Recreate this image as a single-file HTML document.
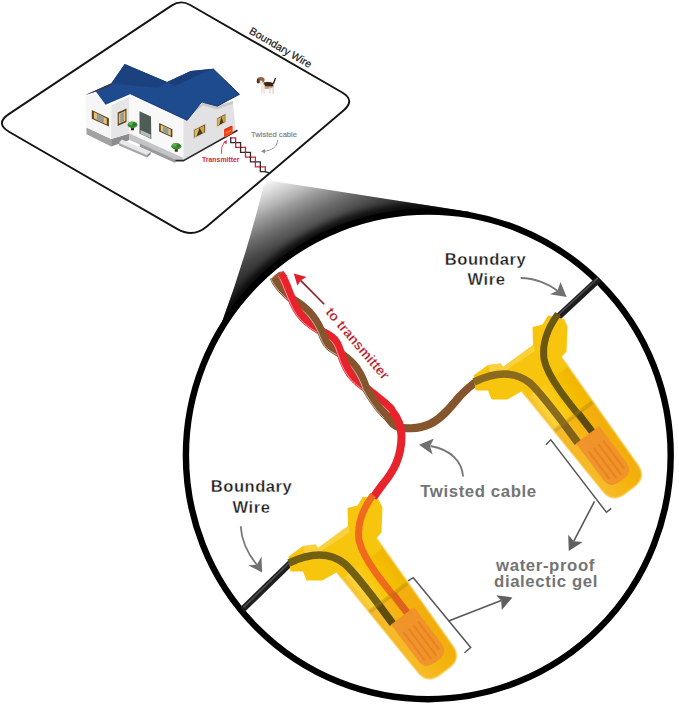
<!DOCTYPE html>
<html><head><meta charset="utf-8"><style>
html,body{margin:0;padding:0;background:#fff;}
svg{display:block;}
text{font-family:"Liberation Sans",sans-serif;}
</style></head><body>
<svg width="679" height="705" viewBox="0 0 679 705">
<defs>
<linearGradient id="cone" gradientUnits="userSpaceOnUse" x1="265" y1="182" x2="328.75" y2="317.75">
<stop offset="0.000" stop-color="#f8f8f8"/>
<stop offset="0.107" stop-color="#cccccc"/>
<stop offset="0.160" stop-color="#b5b5b5"/>
<stop offset="0.213" stop-color="#9a9a9a"/>
<stop offset="0.320" stop-color="#6c6c6c"/>
<stop offset="0.433" stop-color="#444444"/>
<stop offset="0.533" stop-color="#303030"/>
<stop offset="0.733" stop-color="#1c1c1c"/>
<stop offset="1.000" stop-color="#0e0e0e"/>
</linearGradient>
<linearGradient id="tubeg" x1="0" y1="-26" x2="0" y2="26" gradientUnits="userSpaceOnUse">
<stop offset="0" stop-color="#f0b400"/>
<stop offset="0.45" stop-color="#f8c400"/>
<stop offset="0.85" stop-color="#fbd23c"/>
<stop offset="1" stop-color="#f4bd22"/>
</linearGradient>
</defs>
<rect width="679" height="705" fill="#fff"/>
<path d="M171.5,5.6 Q180.7,-0.5 190.2,5.0 L341.8,92.2 Q355.7,100.2 343.5,110.5 L206.8,226.5 Q193.1,238.1 177.5,229.1 L9.4,132.0 Q-5.3,123.5 8.8,114.1 Z" fill="none" stroke="#141414" stroke-width="1.9"/>
<polygon points="86.5,127.5 111.2,138.9 111.2,146.5 86.5,134.2" fill="#a2a2a4"/>
<polygon points="111.2,138.9 129.5,133.5 129.5,140.0 111.2,146.5" fill="#8c8c8e"/>
<polygon points="85.5,96.5 95.9,91.8 105.6,104.8 111.2,105.6 111.2,138.9 86.5,127.5" fill="#f6f6f6"/>
<polygon points="111.2,105.6 129.5,96.5 129.5,133.5 111.2,138.9" fill="#e6e6e8"/>
<polygon points="129.5,94.5 187.1,120.8 183.4,121.0 183.4,158.0 129.5,133.5" fill="#f8f8f8"/>
<polygon points="129.5,133.5 183.4,158.0 183.4,161.0 175.3,160.5 129.5,140.0" fill="#c4c4c6"/>
<polygon points="140.0,143.6 175.3,159.8 175.3,163.0 140.0,147.0" fill="#9a9a9c"/>
<polygon points="121.8,139.5 150.7,151.8 147.0,155.0 118.9,143.0" fill="#e8e8ea"/>
<polygon points="118.9,143.0 147.0,155.0 147.0,157.5 118.9,145.5" fill="#a8a8aa"/>
<polygon points="147.0,155.0 150.7,151.8 150.7,154.3 147.0,157.5" fill="#8e8e90"/>
<polygon points="183.4,120.8 203.3,102.4 216.6,106.0 232.8,100.9 235.7,130.3 183.4,159.8" fill="#e2e2e4"/>
<polygon points="203.3,102.4 216.6,106.0 232.8,100.9 232.8,104.0 216.6,109.5 203.3,105.5 190.0,115.0" fill="#c9c9cc"/>
<polyline points="175.3,160.6 183.4,160.6 237.5,130.2" fill="none" stroke="#2a2a2a" stroke-width="1.6"/>
<polygon points="91.8,110.0 108.9,118.3 108.9,126.5 91.8,118.8" fill="#5e4418"/><polygon points="93.9,112.1 106.8,118.4 106.8,124.5 93.9,118.6" fill="#e3c27e"/><polygon points="96.9,114.0 103.8,117.3 103.8,122.7 96.9,119.6" fill="#8d9b9c"/>
<polygon points="117.7,112.5 126.5,108.5 126.5,122.0 117.7,126.0" fill="#5e4418"/><polygon points="118.8,113.8 125.4,110.7 125.4,120.7 118.8,123.8" fill="#e3c27e"/><polygon points="120.3,113.7 123.9,112.1 123.9,120.8 120.3,122.4" fill="#8d9b9c"/>
<polygon points="159.1,123.0 172.4,129.2 172.4,137.5 159.1,131.5" fill="#5e4418"/><polygon points="160.7,124.8 170.8,129.5 170.8,135.7 160.7,131.1" fill="#e3c27e"/><polygon points="163.1,126.4 168.4,128.8 168.4,134.2 163.1,131.8" fill="#8d9b9c"/>
<polygon points="193.0,129.6 206.3,123.0 206.3,132.6 193.0,139.2" fill="#d6c9ad"/><polygon points="194.3,129.9 205.0,124.6 205.0,132.3 194.3,137.6" fill="#4a3a1a"/><polygon points="194.6,130.2 199.6,127.7 196.5,136.3 194.6,137.3" fill="#dcb866"/><polygon points="199.6,127.7 204.4,125.4 204.4,132.4 202.6,133.3" fill="#c9a451"/>
<polygon points="216.6,117.9 226.2,112.9 226.2,122.2 216.6,127.4" fill="#d6c9ad"/><polygon points="217.6,118.3 225.2,114.3 225.2,121.8 217.6,125.9" fill="#4a3a1a"/><polygon points="217.8,118.7 221.4,116.8 219.1,124.9 217.8,125.6" fill="#dcb866"/><polygon points="221.4,116.8 224.9,115.0 224.9,121.8 223.5,122.5" fill="#c9a451"/>
<polygon points="139.5,111.2 151.0,116.5 151.3,138.9 139.5,133.6" fill="#4f5c55"/>
<polygon points="140.5,130.0 150.5,134.5 150.5,138.3 140.5,133.8" fill="#b8bcbc"/>
<rect x="131.0" y="126.3" width="3" height="4" fill="#3b2a14"/><ellipse cx="132.5" cy="124.8" rx="5" ry="3.2" fill="#3d8a36"/><ellipse cx="131.0" cy="123.5" rx="2.6" ry="1.8" fill="#5fae4f"/><ellipse cx="134.5" cy="124.3" rx="2" ry="1.5" fill="#2f7a2c"/>
<rect x="174.8" y="147.7" width="3" height="4" fill="#3b2a14"/><ellipse cx="176.3" cy="146.2" rx="5" ry="3.2" fill="#3d8a36"/><ellipse cx="174.8" cy="144.9" rx="2.6" ry="1.8" fill="#5fae4f"/><ellipse cx="178.3" cy="145.7" rx="2" ry="1.5" fill="#2f7a2c"/>
<polygon points="85.3,95.1 111.4,83.2 124.7,63.9 167.1,82.1 190.7,71.0 213.0,68.7 239.5,94.3 217.2,106.2 201.8,102.0 187.1,120.4 130.6,93.9 105.6,104.8 95.9,91.6" fill="#1e4a8e"/>
<polygon points="124.7,63.9 167.1,82.1 158.0,88.0 111.4,83.2" fill="#1b427f"/>
<polygon points="167.1,82.1 190.7,71.0 213.0,68.7 196.0,76.0 175.0,86.0" fill="#193e7a"/>
<polyline points="213.0,68.7 239.5,94.3 217.2,106.2" fill="none" stroke="#10285a" stroke-width="0.9"/>
<polygon points="85.3,95.1 111.4,83.2 112.0,85.0 95.9,91.6" fill="#3a3a40"/>
<polyline points="130.6,93.9 187.1,120.4 201.8,102.0 217.2,106.2" fill="none" stroke="#14306a" stroke-width="0.8"/>

<g>
<path d="M263,82.5 Q268,81 273,83 L274,87.5 Q270,89.5 264,88.8 Z" fill="#c89a78"/>
<path d="M264,82.5 Q268,81.2 272.8,83 L273.3,86 Q268,86.8 264.5,85.8 Z" fill="#3a2418"/>
<path d="M269,87.5 L270.6,87.5 L270.6,93.6 L269.3,93.6 Z M272.2,86.8 L273.9,86.8 L273.9,93.9 L272.7,93.9 Z" fill="#e4d2c4"/>
<path d="M261,84.5 L264.6,84.8 L265,94.6 L263.6,94.6 L263,89.5 L262.3,94.2 L261,94.2 Z" fill="#f2e6dd"/>
<path d="M272.5,83.6 L275,77.8 L276.1,78.3 L274,84.2 Z" fill="#3a2418"/>
<ellipse cx="260.8" cy="79.9" rx="3.8" ry="2.9" fill="#94643e"/>
<ellipse cx="258.2" cy="81.2" rx="1.5" ry="2.4" fill="#5a3420"/>
<path d="M259.8,80.6 Q261.6,80 262.6,81.6 L262.6,85.2 L260.2,85.2 Z" fill="#f3e7de"/>
</g>
<text x="0" y="0" font-size="10.6" fill="#1a1a1a" stroke="#1a1a1a" stroke-width="0.2" transform="translate(248.6,33.0) rotate(30.2)">Boundary Wire</text>
<text x="251" y="136.6" font-size="7.6" fill="#7c7c7c" stroke="#7c7c7c" stroke-width="0.15">Twisted cable</text>
<text x="202" y="161.8" font-size="6.9" font-weight="bold" fill="#d0283a">Transmitter</text>
<path d="M277.5,140 C278,146 272,151 263,151.3" fill="none" stroke="#8a8a8a" stroke-width="0.9"/>
<polygon points="261,151.3 265,149 265,153.6" fill="#8a8a8a"/>
<path d="M221.6,153.7 C221,148 222.5,144 225.5,141.5" fill="none" stroke="#d33040" stroke-width="0.9"/>
<polygon points="226.8,140 223.2,142.2 226.6,144.2" fill="#d33040"/>
<polygon points="224.0,129.5 231.5,125.8 232.6,126.8 232.6,133.5 225.2,137.2 224.0,136.2" fill="#f0461e"/>
<polygon points="224.0,129.5 231.5,125.8 232.6,126.8 225.2,130.6" fill="#d8321a"/>
<polygon points="225.5,132.5 231.0,129.8 231.0,131.0 225.5,133.7" fill="#f8803a"/>
<polyline points="230.70,137.80 235.64,137.80 235.64,142.63" fill="none" stroke="#d22430" stroke-width="1.3" stroke-linecap="square"/><polyline points="230.70,137.80 230.70,142.63 235.64,142.63" fill="none" stroke="#2e2a2a" stroke-width="1.3" stroke-linecap="square"/><polyline points="235.64,142.63 240.58,142.63 240.58,147.46" fill="none" stroke="#2e2a2a" stroke-width="1.3" stroke-linecap="square"/><polyline points="235.64,142.63 235.64,147.46 240.58,147.46" fill="none" stroke="#d22430" stroke-width="1.3" stroke-linecap="square"/><polyline points="240.58,147.46 245.52,147.46 245.52,152.29" fill="none" stroke="#d22430" stroke-width="1.3" stroke-linecap="square"/><polyline points="240.58,147.46 240.58,152.29 245.52,152.29" fill="none" stroke="#2e2a2a" stroke-width="1.3" stroke-linecap="square"/><polyline points="245.52,152.29 250.46,152.29 250.46,157.12" fill="none" stroke="#2e2a2a" stroke-width="1.3" stroke-linecap="square"/><polyline points="245.52,152.29 245.52,157.12 250.46,157.12" fill="none" stroke="#d22430" stroke-width="1.3" stroke-linecap="square"/><polyline points="250.46,157.12 255.40,157.12 255.40,161.95" fill="none" stroke="#d22430" stroke-width="1.3" stroke-linecap="square"/><polyline points="250.46,157.12 250.46,161.95 255.40,161.95" fill="none" stroke="#2e2a2a" stroke-width="1.3" stroke-linecap="square"/><polyline points="255.40,161.95 260.34,161.95 260.34,166.78" fill="none" stroke="#2e2a2a" stroke-width="1.3" stroke-linecap="square"/><polyline points="255.40,161.95 255.40,166.78 260.34,166.78" fill="none" stroke="#d22430" stroke-width="1.3" stroke-linecap="square"/><polyline points="260.34,166.78 265.28,166.78 265.28,171.61" fill="none" stroke="#d22430" stroke-width="1.3" stroke-linecap="square"/><polyline points="260.34,166.78 260.34,171.61 265.28,171.61" fill="none" stroke="#2e2a2a" stroke-width="1.3" stroke-linecap="square"/>
<line x1="265.3" y1="171.6" x2="270.3" y2="173.4" stroke="#2a2a2a" stroke-width="1.3"/>
<clipPath id="coneclip"><path d="M262.8,189 Q264.5,180.5 272,181 L470,212 L428,455 L222,322 Q246.5,255 262.8,189 Z"/></clipPath><filter id="blur3" x="-10%" y="-10%" width="120%" height="120%"><feGaussianBlur stdDeviation="3"/></filter>
<path d="M262.8,189 Q264.5,180.5 272,181 L470,212 L428,455 L222,322 Q246.5,255 262.8,189 Z" fill="url(#cone)"/>
<g clip-path="url(#coneclip)"><ellipse cx="428.3" cy="455.4" rx="242.4" ry="243.8" fill="none" stroke="#000" stroke-width="18" opacity="0.75" filter="url(#blur3)"/></g>
<ellipse cx="428.3" cy="455.4" rx="242.4" ry="243.8" fill="#fff" stroke="#000" stroke-width="6.4"/>
<line x1="242.5" y1="609.5" x2="292" y2="561.5" stroke="#1e1e1e" stroke-width="6.6"/>
<line x1="243.5" y1="607.5" x2="291" y2="561" stroke="#505050" stroke-width="1.6"/>
<line x1="599" y1="279" x2="557" y2="318" stroke="#1e1e1e" stroke-width="6.6"/>
<line x1="598" y1="278" x2="556" y2="317" stroke="#505050" stroke-width="1.6"/>
<path d="M385.5,414.9 L386.2,415.6 C389.5,418.8 391,424 397,426.5 C403,429 418,429.5 430,424 C443,418 452,405 460,396 C467,389 472,384 477,381.5" fill="none" stroke="#85552e" stroke-width="8"/>
<path d="M391.2,409.6 L391.8,410.4 C396.2,415.9 401.5,424 401.5,436 C401.5,458 393,472 383,484 C377,492 372,499 369,505" fill="none" stroke="#e8232b" stroke-width="8"/>
<polyline points="280.0,273.6 280.3,273.9 280.6,274.2 280.9,274.5 281.2,274.9 281.4,275.3 281.7,275.7 282.0,276.1 282.3,276.6 282.6,277.0 282.8,277.5 283.1,278.1" fill="none" stroke="#e8232b" stroke-width="8.4" stroke-linecap="butt"/>
<polyline points="277.3,275.3 277.6,275.6 277.9,275.8 278.1,276.2 278.4,276.5 278.7,276.9 279.0,277.3 279.2,277.7 279.5,278.2 279.8,278.6 280.1,279.1 280.3,279.6" fill="none" stroke="#fff" stroke-width="0.7" opacity="0.85"/>
<polyline points="274.0,277.4 274.1,277.7 274.2,278.1 274.3,278.4 274.5,278.8 274.7,279.2 274.9,279.7 275.1,280.1 275.4,280.5 275.6,281.0 275.9,281.5 276.2,282.0" fill="none" stroke="#85552e" stroke-width="8.4" stroke-linecap="butt"/>
<polyline points="271.3,279.1 271.4,279.4 271.5,279.7 271.6,280.1 271.7,280.5 271.9,280.8 272.1,281.3 272.3,281.7 272.6,282.1 272.8,282.6 273.1,283.1 273.4,283.6" fill="none" stroke="#fff" stroke-width="0.7" opacity="0.85"/>
<polyline points="275.6,281.0 275.9,281.5 276.2,282.0 276.5,282.5 276.9,283.0 277.2,283.6 277.6,284.1 278.0,284.7 278.4,285.2 278.9,285.8 279.3,286.4 279.8,287.0 280.3,287.6 280.8,288.2 281.3,288.8 281.8,289.4 282.4,290.0 282.9,290.6 283.5,291.2 284.1,291.8 284.7,292.4 285.3,293.1 285.9,293.7 286.6,294.3 287.2,294.9 287.9,295.5 288.5,296.1 289.2,296.7 289.9,297.3 290.6,297.9 291.3,298.4 292.0,299.0 292.8,299.5 293.6,300.0 294.5,300.6 295.3,301.1 296.2,301.7 297.1,302.2 297.9,302.8 298.8,303.4 299.7,304.1 300.6,304.7 301.5,305.4 302.4,306.1 303.2,306.8 304.1,307.5 305.0,308.3 305.8,309.0 306.7,309.8 307.5,310.6 308.3,311.5 309.1,312.3 309.9,313.2" fill="none" stroke="#85552e" stroke-width="8.4" stroke-linecap="butt"/>
<polyline points="272.8,282.6 273.1,283.1 273.4,283.6 273.7,284.1 274.1,284.6 274.5,285.2 274.8,285.7 275.2,286.3 275.7,286.9 276.1,287.4 276.5,288.0 277.0,288.6 277.5,289.2 278.0,289.8 278.5,290.5 279.1,291.1 279.6,291.7 280.2,292.3 280.8,292.9 281.4,293.6 282.0,294.2 282.6,294.8 283.3,295.5 283.9,296.1 284.6,296.7 285.3,297.3 285.9,298.0 286.6,298.6 287.3,299.2 288.0,299.8 288.8,300.4 289.5,301.0 290.3,301.5 291.2,302.1 292.0,302.6 292.9,303.2 293.7,303.7 294.6,304.3 295.5,304.9 296.4,305.6 297.3,306.2 298.2,306.9 299.1,307.5 300.0,308.2 300.9,308.9 301.7,309.7 302.6,310.4 303.5,311.2 304.3,312.0 305.1,312.8 306.0,313.6 306.8,314.5 307.6,315.3" fill="none" stroke="#fff" stroke-width="0.7" opacity="0.85"/>
<polyline points="282.6,277.0 282.8,277.5 283.1,278.1 283.4,278.6 283.7,279.1 283.9,279.7 284.2,280.3 284.5,280.9 284.8,281.5 285.0,282.2 285.3,282.8 285.6,283.5 285.9,284.2 286.2,284.9 286.5,285.6 286.7,286.3 287.0,287.1 287.3,287.8 287.6,288.6 287.9,289.3 288.2,290.1 288.5,290.9 288.8,291.7 289.2,292.5 289.5,293.3 289.8,294.1 290.2,294.9 290.5,295.7 290.9,296.5 291.2,297.4 291.6,298.2 292.0,299.0 292.3,299.9 292.7,300.8 293.0,301.7 293.4,302.7 293.9,303.6 294.3,304.6 294.8,305.6 295.3,306.6 295.8,307.5 296.4,308.5 296.9,309.5 297.6,310.4 298.2,311.4 298.8,312.3 299.5,313.3 300.2,314.2 301.0,315.1 301.7,316.0 302.5,316.9 303.3,317.8 304.1,318.6" fill="none" stroke="#e8232b" stroke-width="8.4" stroke-linecap="butt"/>
<polyline points="279.8,278.6 280.1,279.1 280.3,279.6 280.6,280.2 280.9,280.7 281.2,281.3 281.4,281.9 281.7,282.5 282.0,283.2 282.3,283.8 282.6,284.5 282.9,285.1 283.1,285.8 283.4,286.6 283.7,287.3 284.0,288.0 284.3,288.8 284.6,289.5 284.9,290.3 285.2,291.1 285.5,291.9 285.9,292.7 286.2,293.5 286.5,294.3 286.9,295.1 287.2,295.9 287.6,296.8 287.9,297.6 288.3,298.5 288.7,299.3 289.1,300.1 289.5,301.0 289.8,301.9 290.2,302.8 290.6,303.8 291.0,304.8 291.4,305.7 291.9,306.7 292.4,307.7 292.9,308.7 293.4,309.6 294.0,310.6 294.6,311.6 295.2,312.6 295.8,313.5 296.5,314.5 297.2,315.4 297.9,316.4 298.6,317.3 299.4,318.2 300.1,319.1 300.9,319.9 301.7,320.8" fill="none" stroke="#fff" stroke-width="0.7" opacity="0.85"/>
<polyline points="302.5,316.9 303.3,317.8 304.1,318.6 304.9,319.4 305.7,320.2 306.6,321.0 307.5,321.8 308.4,322.6 309.3,323.3 310.2,324.0 311.1,324.7 312.0,325.4 312.9,326.0 313.8,326.6 314.8,327.2 315.7,327.8 316.6,328.4 317.5,329.0 318.4,329.5 319.3,330.0 320.1,330.5 321.0,331.0 321.8,331.5 322.7,331.9 323.5,332.4 324.3,332.8 325.0,333.2 325.8,333.6 326.5,334.0 327.2,334.4 327.9,334.8 328.6,335.2 329.3,335.6 329.9,336.0 330.5,336.5 331.1,336.9 331.7,337.3 332.2,337.8 332.8,338.2 333.3,338.7 333.8,339.2 334.2,339.7 334.7,340.2" fill="none" stroke="#e8232b" stroke-width="8.4" stroke-linecap="butt"/>
<polyline points="300.1,319.1 300.9,319.9 301.7,320.8 302.6,321.6 303.4,322.4 304.3,323.2 305.1,324.0 306.0,324.8 306.9,325.5 307.8,326.2 308.7,326.9 309.6,327.5 310.6,328.2 311.5,328.8 312.4,329.4 313.3,330.0 314.2,330.6 315.1,331.1 316.0,331.6 316.9,332.2 317.8,332.7 318.6,333.1 319.5,333.6 320.3,334.1 321.1,334.5 321.9,334.9 322.7,335.3 323.4,335.8 324.1,336.2 324.9,336.6 325.6,337.0 326.2,337.4 326.9,337.8 327.5,338.2 328.1,338.6 328.7,339.0 329.3,339.5 329.9,339.9 330.4,340.4 330.9,340.8 331.4,341.3 331.8,341.8 332.3,342.4" fill="none" stroke="#fff" stroke-width="0.7" opacity="0.85"/>
<polyline points="308.3,311.5 309.1,312.3 309.9,313.2 310.7,314.0 311.4,314.9 312.2,315.8 312.9,316.8 313.6,317.7 314.2,318.6 314.9,319.6 315.5,320.5 316.1,321.5 316.7,322.5 317.3,323.4 317.8,324.4 318.3,325.4 318.8,326.3 319.3,327.3 319.8,328.2 320.2,329.2 320.6,330.1 321.0,331.0 321.4,331.9 321.7,332.8 322.1,333.6 322.4,334.4 322.8,335.3 323.1,336.0 323.4,336.8 323.8,337.6 324.1,338.3 324.4,339.0 324.8,339.7 325.1,340.4 325.5,341.0 325.8,341.7 326.2,342.3 326.6,342.9 327.0,343.4 327.4,344.0 327.8,344.5 328.3,345.0 328.7,345.5" fill="none" stroke="#85552e" stroke-width="8.4" stroke-linecap="butt"/>
<polyline points="306.0,313.6 306.8,314.5 307.6,315.3 308.3,316.2 309.1,317.1 309.8,318.0 310.5,318.9 311.2,319.9 311.9,320.8 312.5,321.8 313.2,322.7 313.8,323.7 314.4,324.7 314.9,325.6 315.5,326.6 316.0,327.5 316.5,328.5 317.0,329.5 317.4,330.4 317.8,331.3 318.2,332.2 318.6,333.1 319.0,334.0 319.3,334.9 319.7,335.7 320.0,336.6 320.4,337.4 320.7,338.2 321.0,339.0 321.4,339.7 321.7,340.5 322.0,341.2 322.4,341.9 322.7,342.5 323.1,343.2 323.5,343.8 323.8,344.4 324.2,345.0 324.6,345.6 325.0,346.1 325.4,346.7 325.9,347.2 326.3,347.7" fill="none" stroke="#fff" stroke-width="0.7" opacity="0.85"/>
<polyline points="327.8,344.5 328.3,345.0 328.7,345.5 329.2,346.0 329.7,346.5 330.2,346.9 330.7,347.4 331.3,347.8 331.9,348.3 332.5,348.7 333.1,349.1 333.7,349.5 334.3,349.9 335.0,350.3 335.7,350.8 336.4,351.2 337.1,351.6 337.9,352.1 338.6,352.5 339.4,353.0 340.2,353.5 341.0,354.0 341.8,354.5 342.6,355.1 343.5,355.7 344.3,356.3 345.1,356.9 346.0,357.5 346.8,358.2 347.6,358.9 348.4,359.6 349.2,360.3 350.0,361.0 350.8,361.8 351.6,362.6 352.4,363.4 353.1,364.2 353.8,365.0 354.6,365.9 355.2,366.8 355.9,367.7 356.6,368.6 357.2,369.5" fill="none" stroke="#85552e" stroke-width="8.4" stroke-linecap="butt"/>
<polyline points="325.4,346.7 325.9,347.2 326.3,347.7 326.8,348.1 327.3,348.6 327.8,349.0 328.3,349.5 328.9,349.9 329.4,350.3 330.0,350.8 330.6,351.2 331.2,351.6 331.9,352.0 332.6,352.4 333.2,352.8 333.9,353.2 334.7,353.6 335.4,354.1 336.1,354.5 336.9,355.0 337.7,355.5 338.5,356.0 339.3,356.5 340.1,357.0 340.9,357.6 341.7,358.2 342.6,358.8 343.4,359.4 344.2,360.1 345.0,360.7 345.8,361.4 346.6,362.2 347.4,362.9 348.2,363.7 349.0,364.4 349.8,365.2 350.5,366.1 351.2,366.9 351.9,367.7 352.6,368.6 353.3,369.5 354.0,370.4 354.6,371.3" fill="none" stroke="#fff" stroke-width="0.7" opacity="0.85"/>
<polyline points="333.8,339.2 334.2,339.7 334.7,340.2 335.1,340.8 335.5,341.4 335.9,341.9 336.3,342.5 336.7,343.2 337.0,343.8 337.4,344.5 337.7,345.2 338.0,345.9 338.3,346.6 338.6,347.3 338.9,348.1 339.2,348.9 339.5,349.7 339.8,350.5 340.1,351.4 340.4,352.2 340.7,353.1 341.0,354.0 341.3,354.9 341.6,355.8 342.0,356.8 342.3,357.7 342.7,358.7 343.0,359.7 343.4,360.6 343.8,361.6 344.2,362.6 344.7,363.6 345.1,364.6 345.6,365.6 346.1,366.5 346.6,367.5 347.1,368.5 347.6,369.4 348.2,370.4 348.8,371.3 349.4,372.3 350.0,373.2 350.7,374.1" fill="none" stroke="#e8232b" stroke-width="8.4" stroke-linecap="butt"/>
<polyline points="331.4,341.3 331.8,341.8 332.3,342.4 332.7,342.9 333.1,343.5 333.5,344.0 333.9,344.6 334.3,345.3 334.6,345.9 334.9,346.6 335.3,347.2 335.6,347.9 335.9,348.6 336.2,349.4 336.5,350.1 336.7,350.9 337.0,351.7 337.3,352.5 337.6,353.4 337.9,354.2 338.2,355.1 338.5,356.0 338.8,356.9 339.1,357.8 339.4,358.7 339.8,359.7 340.1,360.6 340.5,361.6 340.8,362.5 341.2,363.5 341.6,364.5 342.1,365.5 342.5,366.4 343.0,367.4 343.4,368.4 344.0,369.4 344.5,370.3 345.0,371.3 345.6,372.2 346.2,373.2 346.8,374.1 347.4,375.0 348.1,375.9" fill="none" stroke="#fff" stroke-width="0.7" opacity="0.85"/>
<polyline points="349.4,372.3 350.0,373.2 350.7,374.1 351.4,375.0 352.1,375.9 352.8,376.7 353.5,377.6 354.3,378.4 355.1,379.2 355.9,380.0 356.7,380.8 357.5,381.5 358.3,382.3 359.2,383.0 360.0,383.7 360.9,384.4 361.7,385.0 362.6,385.7 363.4,386.3 364.3,386.9 365.2,387.4 366.0,388.0 366.8,388.6 367.5,389.2 368.3,389.9 369.1,390.5 369.8,391.1 370.6,391.7 371.4,392.4 372.2,393.0 373.0,393.6 373.8,394.3 374.6,394.9 375.4,395.5 376.1,396.1 376.9,396.7 377.7,397.4 378.4,398.0 379.2,398.6 380.0,399.2 380.7,399.8 381.4,400.4 382.1,401.0 382.8,401.6 383.5,402.2 384.2,402.7 384.8,403.3 385.4,403.8 386.1,404.4 386.6,404.9 387.2,405.5 387.8,406.0 388.3,406.5 388.8,407.0 389.3,407.5 389.7,407.9 390.1,408.4" fill="none" stroke="#e8232b" stroke-width="8.4" stroke-linecap="butt"/>
<polyline points="346.8,374.1 347.4,375.0 348.1,375.9 348.8,376.8 349.5,377.7 350.2,378.6 350.9,379.4 351.7,380.3 352.5,381.1 353.3,381.9 354.1,382.7 354.9,383.4 355.7,384.2 356.6,384.9 357.4,385.6 358.3,386.3 359.2,387.0 360.0,387.6 360.9,388.3 361.8,388.9 362.7,389.5 363.5,390.0 364.3,390.7 365.1,391.3 365.8,391.9 366.6,392.6 367.4,393.2 368.2,393.8 369.0,394.5 369.8,395.1 370.6,395.8 371.4,396.4 372.2,397.0 373.0,397.7 373.8,398.3 374.6,398.9 375.3,399.5 376.1,400.2 376.9,400.8 377.6,401.4 378.4,402.0 379.1,402.6 379.8,403.2 380.5,403.8 381.2,404.4 381.9,404.9 382.5,405.5 383.1,406.1 383.7,406.6 384.3,407.2 384.9,407.7 385.5,408.2 386.0,408.7 386.5,409.2 386.9,409.7 387.4,410.1 387.8,410.6" fill="none" stroke="#fff" stroke-width="0.7" opacity="0.85"/>
<polyline points="355.9,367.7 356.6,368.6 357.2,369.5 357.8,370.4 358.4,371.4 359.0,372.3 359.6,373.3 360.1,374.2 360.6,375.2 361.1,376.2 361.6,377.2 362.1,378.2 362.5,379.2 362.9,380.2 363.4,381.2 363.8,382.2 364.2,383.2 364.5,384.2 364.9,385.1 365.3,386.1 365.6,387.1 366.0,388.0 366.5,388.9 366.9,389.7 367.4,390.6 367.9,391.5 368.4,392.3 368.9,393.2 369.5,394.1 370.0,395.0 370.5,395.8 371.1,396.7 371.6,397.5 372.2,398.4 372.7,399.2 373.3,400.1 373.9,400.9 374.4,401.7 375.0,402.5 375.6,403.3 376.1,404.1 376.7,404.9 377.3,405.6 377.8,406.3 378.4,407.0 378.9,407.7 379.5,408.4 380.0,409.1 380.5,409.7 381.1,410.3 381.6,410.9 382.1,411.5 382.6,412.0 383.0,412.5 383.5,413.0 383.9,413.5 384.4,413.9" fill="none" stroke="#85552e" stroke-width="8.4" stroke-linecap="butt"/>
<polyline points="353.3,369.5 354.0,370.4 354.6,371.3 355.2,372.3 355.8,373.2 356.4,374.2 357.0,375.1 357.5,376.1 358.0,377.1 358.5,378.1 359.0,379.1 359.5,380.1 359.9,381.1 360.4,382.1 360.8,383.1 361.2,384.1 361.6,385.1 362.0,386.1 362.4,387.1 362.8,388.1 363.1,389.1 363.5,390.0 364.0,390.9 364.5,391.8 365.0,392.7 365.5,393.5 366.0,394.4 366.5,395.3 367.1,396.2 367.6,397.1 368.1,398.0 368.7,398.8 369.3,399.7 369.8,400.6 370.4,401.4 371.0,402.2 371.5,403.1 372.1,403.9 372.7,404.7 373.3,405.5 373.8,406.3 374.4,407.1 375.0,407.8 375.5,408.5 376.1,409.3 376.6,410.0 377.2,410.6 377.7,411.3 378.2,411.9 378.8,412.5 379.3,413.1 379.8,413.7 380.3,414.2 380.7,414.7 381.2,415.2 381.6,415.7 382.0,416.1" fill="none" stroke="#fff" stroke-width="0.7" opacity="0.85"/>
<polyline points="383.5,413.0 383.9,413.5 384.4,413.9 384.8,414.3 385.2,414.7 385.5,415.0 385.9,415.3 386.2,415.6" fill="none" stroke="#85552e" stroke-width="8.4" stroke-linecap="butt"/>
<polyline points="381.2,415.2 381.6,415.7 382.0,416.1 382.4,416.5 382.8,416.9 383.2,417.2 383.5,417.5 383.9,417.8" fill="none" stroke="#fff" stroke-width="0.7" opacity="0.85"/>
<polyline points="389.3,407.5 389.7,407.9 390.1,408.4 390.5,408.8 390.9,409.2 391.2,409.7 391.5,410.0 391.8,410.4" fill="none" stroke="#e8232b" stroke-width="8.4" stroke-linecap="butt"/>
<polyline points="386.9,409.7 387.4,410.1 387.8,410.6 388.2,411.0 388.6,411.4 388.9,411.8 389.2,412.2 389.4,412.6" fill="none" stroke="#fff" stroke-width="0.7" opacity="0.85"/>
<ellipse cx="276.6" cy="275.6" rx="6.2" ry="1.5" transform="rotate(-40 276.6 275.6)" fill="#9a5a34"/>
<text x="0" y="0" font-size="13.9" font-weight="bold" fill="#b51e2a" stroke="#fff" stroke-width="0.2" transform="translate(325,312.5) rotate(49.5)">to transmitter</text>
<line x1="324.2" y1="304.2" x2="300.6" y2="280.4" stroke="#8e1a22" stroke-width="1.6"/>
<polygon points="293.8,273.6 306.5,277.1 300.6,280.4 297.4,285.7" fill="#e21f2a"/>

<g id="connA">
 <path d="M-15,-26.4 L129.5,-22.5 Q145.5,-22.5 145.5,-6.5 L145.5,5 Q145.5,21 129.5,21 L-15,26.5 Z" fill="url(#tubeg)" transform="translate(356.55,555.2) rotate(53.13)"/>
 <path d="M288.5,556.5 L303,546 L316,544.5 L318,548 L348,526 L347.5,508 L357.5,505.5 L363,496.5 L379,500 L382.5,507.5 L381.5,532.5 L376.4,538.2 L383.4,547.6 L341.8,578.8 L336.7,572.2 L322.5,580.5 L306.5,580.5 L303,571.5 L290.5,571.5 Z" fill="#f8c50e"/>
 <path d="M303,546 L316,544.5 L318,548 L348,526 L350,532 L320,552 L305,553 Z" fill="#fbd650" opacity="0.7"/>
</g>
<use href="#connA" transform="translate(185,-181)"/>
<path d="M289,563 C310,553 330,552 345,564 C358,576 376,601 392.5,623" fill="none" stroke="#735f12" stroke-width="7.5"/>
<path d="M373,495 C362,510 357,525 359,540 C363,560 387,588 407,612.4" fill="none" stroke="#f06a1e" stroke-width="7"/>
<path d="M474,382 C495,372 515,371 530,383 C543,395 561,420 577.5,442" fill="none" stroke="#8a6a1c" stroke-width="7.5"/>
<path d="M558,314 C547,329 542,344 544,359 C548,379 572,407 592,431.4" fill="none" stroke="#6b5810" stroke-width="7"/>

<g id="connB">
 <g transform="translate(356.55,555.2) rotate(53.13)">
  <path d="M53,-24.7 L129.5,-22.5 Q145.5,-22.5 145.5,-6.5 L145.5,5 Q145.5,21 129.5,21 L53,24.2 Z" fill="#f2a418" opacity="0.5"/>
 </g>
</g>
<defs><g id="connC">
 <g transform="translate(356.55,555.2) rotate(53.13)">
  <rect x="51" y="-24.8" width="4" height="49" fill="#a07810" opacity="0.3"/>
  <path d="M76,-15 L121,-15 Q133,-15 133,-3 L133,2 Q133,14 121,14 L76,14 Z" fill="#ef8c30" opacity="0.8"/>
  <path d="M90,-9.5 L125,-9.5 M90,-3.5 L128,-3.5 M90,2.5 L128,2.5 M90,8.5 L125,8.5" stroke="#e5781e" stroke-width="2.2" fill="none" opacity="0.6"/>
  <path d="M0,-26 L129.5,-22.5 Q145.5,-22.5 145.5,-6.5 L145.5,5 Q145.5,21 129.5,21 L0,26" fill="none" stroke="#f7c640" stroke-width="2" opacity="0.6"/>
 </g>
</g></defs>
<use href="#connB" transform="translate(185,-181)"/>
<g transform="translate(356.55,555.2) rotate(53.13)"><rect x="53" y="8.3" width="23.5" height="7.5" fill="#5e4c0e"/><rect x="53" y="-9.5" width="23.5" height="7" fill="#e0601e"/></g>
<g transform="translate(541.55,374.2) rotate(53.13)"><rect x="53" y="8.3" width="23.5" height="7.5" fill="#80621a"/><rect x="53" y="-9.5" width="23.5" height="7" fill="#5a4a0e"/></g>
<use href="#connC"/>
<use href="#connC" transform="translate(185,-181)"/>
<g font-weight="bold" fill="#1e1e1e" font-size="16.6" text-anchor="middle" letter-spacing="0.5" stroke="#fff" stroke-width="0.3"><text x="485.5" y="264.5">Boundary</text><text x="486.5" y="284.5">Wire</text><text x="251.5" y="491.7">Boundary</text><text x="251.5" y="512.5">Wire</text></g>
<g font-weight="bold" fill="#747474" font-size="16.8" text-anchor="middle" letter-spacing="0.6"><text x="478.5" y="497">Twisted cable</text><text x="545.5" y="570.5">water-proof</text><text x="546" y="587.3">dialectic gel</text></g>
<path d="M520.7,278 C535,278 549,284 557.4,290.8" fill="none" stroke="#777777" stroke-width="1.8"/>
<polygon points="566.7,296.9 549.9,294.3 557.4,290.8 560.5,281.9" fill="#707070"/>
<path d="M240.7,526.3 C241.5,541 248,554 256.8,564.7" fill="none" stroke="#777777" stroke-width="1.8"/>
<polygon points="262.1,572.4 248.2,565.3 256.8,564.7 261.5,556.5" fill="#707070"/>
<path d="M463.1,476.5 C462,462 452,450 430.5,446" fill="none" stroke="#777777" stroke-width="1.8"/>
<polygon points="419.0,444.7 434.0,438.5 430.0,446.0 432.7,454.4" fill="#707070"/>
<polyline points="408,580.9 413.3,577.7 470.7,647.5 464.5,652.8" fill="none" stroke="#585858" stroke-width="1.5"/>
<polyline points="545.9,444.8 550.8,439.8 606.4,512.3 611.3,508.3" fill="none" stroke="#585858" stroke-width="1.5"/>
<line x1="448.6" y1="621" x2="501.2" y2="600.6" stroke="#585858" stroke-width="1.6"/>
<polygon points="512.4,597.4 496.2,595.3 501.2,600.6 501.8,610.0" fill="#606060"/>
<line x1="594.5" y1="501.3" x2="573.8" y2="541.2" stroke="#585858" stroke-width="1.6"/>
<polygon points="568.8,550.9 568.2,534.7 573.8,541.2 582.7,542.1" fill="#606060"/>
</svg>
</body></html>
